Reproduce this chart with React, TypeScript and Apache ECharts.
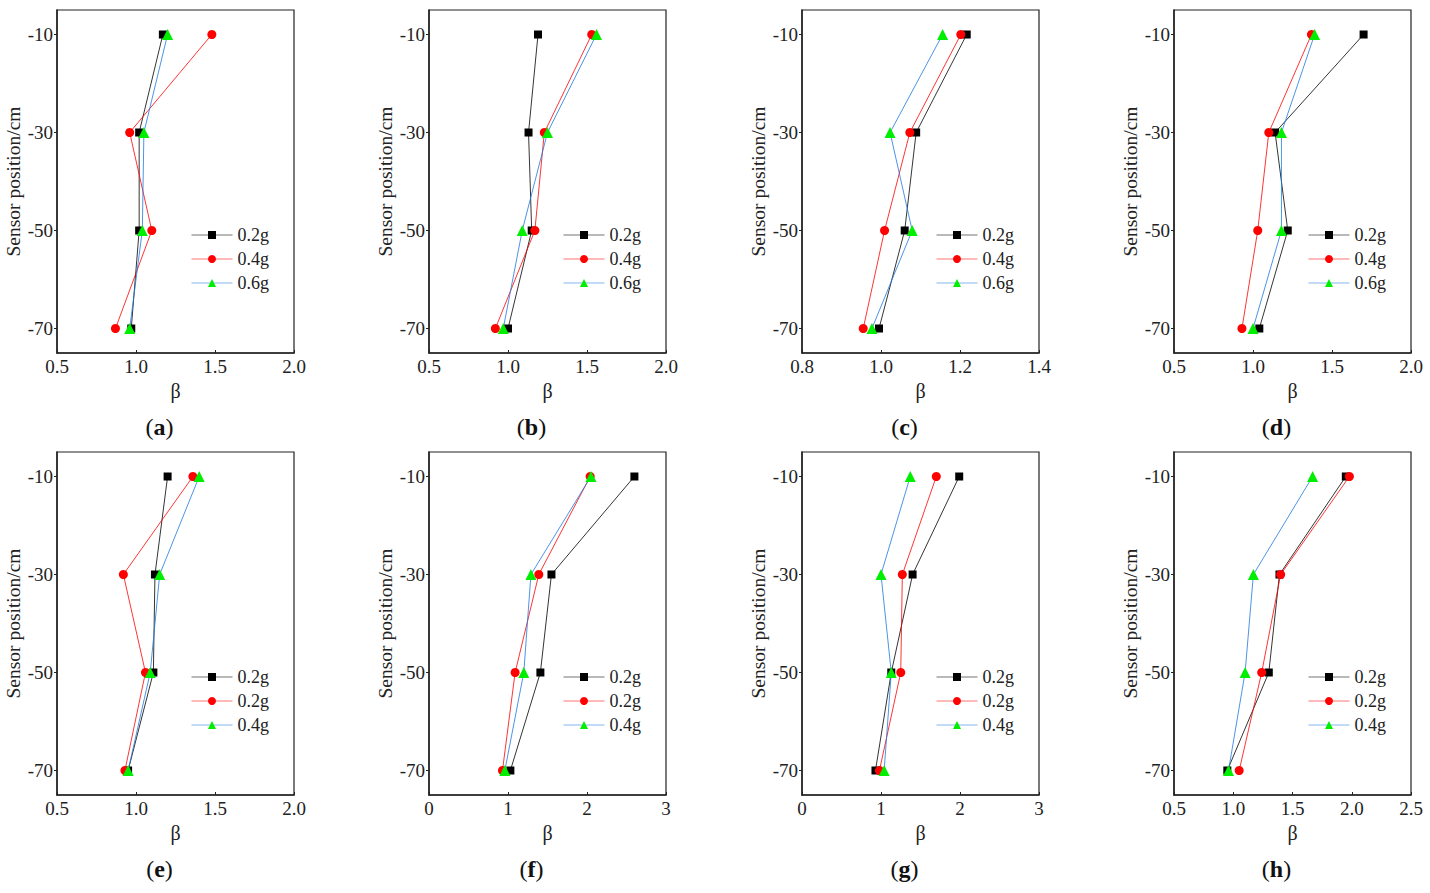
import React, { useEffect, useRef } from "react";
import * as echarts from "echarts";

const positions = [-10, -30, -50, -70];
const yTicks = [-70, -50, -30, -10];

// Panel (a)
const a02 = [1.17, 1.02, 1.02, 0.97];
const a04 = [1.48, 0.96, 1.1, 0.87];
const a06 = [1.2, 1.05, 1.04, 0.96];
// Panel (b)
const b02 = [1.19, 1.13, 1.15, 1.0];
const b04 = [1.53, 1.23, 1.17, 0.92];
const b06 = [1.56, 1.25, 1.09, 0.97];
// Panel (c)
const c02 = [1.217, 1.089, 1.06, 0.995];
const c04 = [1.202, 1.073, 1.009, 0.955];
const c06 = [1.156, 1.023, 1.079, 0.977];
// Panel (d)
const d02 = [1.7, 1.14, 1.22, 1.04];
const d04 = [1.37, 1.1, 1.03, 0.93];
const d06 = [1.39, 1.18, 1.18, 1.0];
// Panel (e)
const e1 = [1.2, 1.12, 1.11, 0.95];
const e2 = [1.36, 0.92, 1.06, 0.93];
const e3 = [1.4, 1.15, 1.09, 0.95];
// Panel (f)
const f1 = [2.6, 1.55, 1.41, 1.03];
const f2 = [2.04, 1.39, 1.09, 0.93];
const f3 = [2.05, 1.29, 1.2, 0.96];
// Panel (g)
const g1 = [1.99, 1.4, 1.13, 0.93];
const g2 = [1.7, 1.27, 1.25, 0.98];
const g3 = [1.37, 1.0, 1.13, 1.04];
// Panel (h)
const h1 = [1.95, 1.39, 1.3, 0.95];
const h2 = [1.98, 1.4, 1.24, 1.05];
const h3 = [1.67, 1.17, 1.1, 0.96];

const topLegend = ["0.2g", "0.4g", "0.6g"];
const bottomLegend = ["0.2g", "0.2g", "0.4g"];
const panelLetters = ["a", "b", "c", "d", "e", "f", "g", "h"];

const xMins = [0.5, 0.5, 0.8, 0.5, 0.5, 0, 0, 0.5];
const xMaxs = [2.0, 2.0, 1.4, 2.0, 2.0, 3, 3, 2.5];
const xIntervals = [0.5, 0.5, 0.2, 0.5, 0.5, 1, 1, 0.5];
const xDecimals = [1, 1, 1, 1, 1, 0, 0, 1];

const panelSeries = [
  [a02, a04, a06],
  [b02, b04, b06],
  [c02, c04, c06],
  [d02, d04, d06],
  [e1, e2, e3],
  [f1, f2, f3],
  [g1, g2, g3],
  [h1, h2, h3],
];

const FONT = '"Liberation Serif", "Times New Roman", serif';

const lineColors = ["#000000", "#ff0000", "#1f78e0"];
const markerColors = ["#000000", "#ff0000", "#00ee00"];
const symbols = ["rect", "circle", "triangle"];
const symbolSizes = [8, 9, 11];

const colLefts = [57, 429, 802, 1174];
const rowTops = [10, 452];
const GW = 237;
const GH = 343;

export default function App() {
  const ref = useRef<HTMLDivElement>(null);
  useEffect(() => {
    if (!ref.current) return;
    const chart = echarts.init(ref.current, undefined, { renderer: "svg" });
    const grid: any[] = [];
    const xAxis: any[] = [];
    const yAxis: any[] = [];
    const series: any[] = [];
    const legend: any[] = [];
    const graphic: any[] = [];
    const nameMap: Record<string, string> = {};

    panelSeries.forEach((sets, p) => {
      const col = p % 4;
      const row = Math.floor(p / 4);
      const left = colLefts[col];
      const top = rowTops[row];
      grid.push({
        left,
        top,
        width: GW,
        height: GH,
        show: true,
        borderColor: "#222",
        borderWidth: 1.2,
        backgroundColor: "transparent",
      });
      const dec = xDecimals[p];
      xAxis.push({
        type: "value",
        gridIndex: p,
        min: xMins[p],
        max: xMaxs[p],
        interval: xIntervals[p],
        name: "β",
        nameLocation: "middle",
        nameGap: 28,
        nameTextStyle: { fontFamily: FONT, fontSize: 20, color: "#222" },
        axisLine: { show: true, lineStyle: { color: "#222", width: 1.5 } },
        axisTick: { show: true, inside: true, length: 3, lineStyle: { color: "#222" } },
        axisLabel: {
          fontFamily: FONT,
          fontSize: 19,
          color: "#222",
          margin: 4,
          formatter: (v: number) => v.toFixed(dec),
        },
        splitLine: { show: false },
      });
      yAxis.push({
        type: "value",
        gridIndex: p,
        min: -75,
        max: -5,
        name: "Sensor position/cm",
        nameLocation: "middle",
        nameGap: 32,
        nameTextStyle: { fontFamily: FONT, fontSize: 19.5, color: "#222" },
        axisLine: { show: true, lineStyle: { color: "#222", width: 1.5 } },
        axisTick: {
          show: true,
          inside: false,
          length: 3,
          customValues: yTicks,
          lineStyle: { color: "#222" },
        },
        axisLabel: {
          fontFamily: FONT,
          fontSize: 19,
          color: "#222",
          margin: 4,
          customValues: yTicks,
        },
        splitLine: { show: false },
      });
      const labels = row === 0 ? topLegend : bottomLegend;
      const names: string[] = [];
      sets.forEach((vals, s) => {
        const nm = `${panelLetters[p]}${s}`;
        nameMap[nm] = labels[s];
        names.push(nm);
        series.push({
          type: "line",
          name: nm,
          xAxisIndex: p,
          yAxisIndex: p,
          data: vals.map((v, i) => [v, positions[i]]),
          symbol: symbols[s],
          symbolSize: symbolSizes[s],
          lineStyle: { color: lineColors[s], width: 0.8 },
          itemStyle: { color: markerColors[s] },
          z: 2 + s,
        });
      });
      legend.push({
        data: names,
        orient: "vertical",
        left: left + 134,
        top: top + 216,
        padding: 0,
        itemWidth: 41,
        itemHeight: 10,
        itemGap: 6,
        lineStyle: { width: 1, opacity: 0.55 },
        textStyle: { fontFamily: FONT, fontSize: 18, color: "#222", lineHeight: 16 },
        formatter: (n: string) => nameMap[n],
        selectedMode: false,
      });
      graphic.push({
        type: "text",
        x: left + GW / 2 - 16,
        y: top + 417,
        style: {
          text: `({b|${panelLetters[p]}})`,
          textAlign: "center",
          textVerticalAlign: "middle",
          font: `24px ${FONT}`,
          fill: "#111",
          rich: {
            b: { fontFamily: FONT, fontSize: 24, fontWeight: "bold", fill: "#111", color: "#111" },
          },
        },
      });
    });

    chart.setOption({
      animation: false,
      backgroundColor: "#ffffff",
      grid,
      xAxis,
      yAxis,
      series,
      legend,
      graphic,
    });
    return () => chart.dispose();
  }, []);
  return (
    <div
      ref={ref}
      style={{ position: "fixed", left: 0, top: 0, width: 1430, height: 893, background: "#fff" }}
    />
  );
}
